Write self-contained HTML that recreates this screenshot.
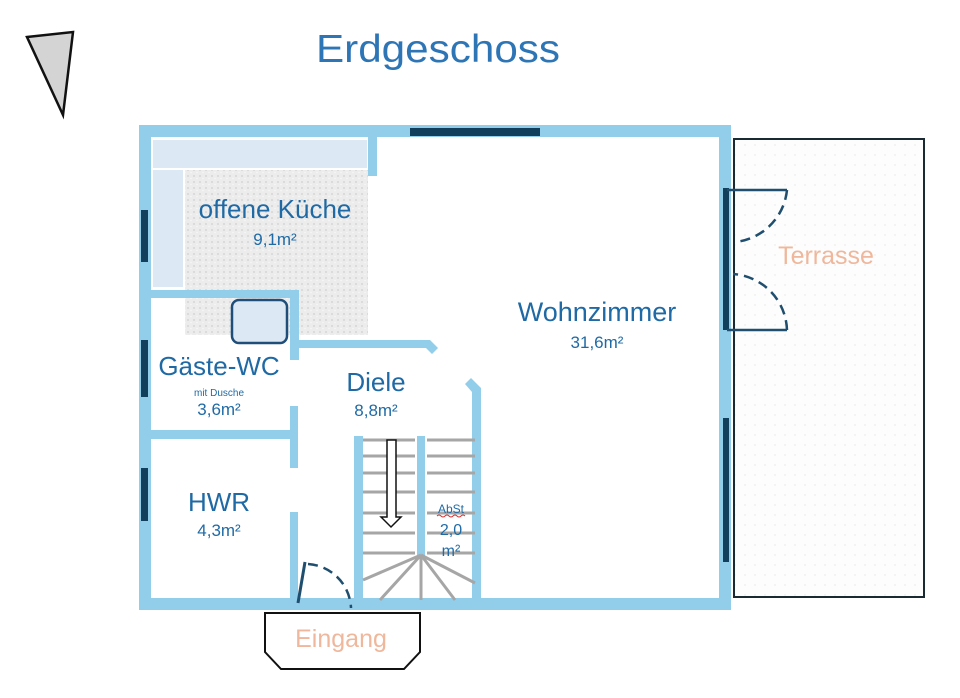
<!DOCTYPE html>
<html><head><meta charset="utf-8"><style>
html,body{margin:0;padding:0;background:#fff;}
svg{display:block;font-family:"Liberation Sans",sans-serif;}
</style></head><body>
<svg width="960" height="698" viewBox="0 0 960 698" xmlns="http://www.w3.org/2000/svg">
<defs>
<pattern id="sp" width="6" height="6" patternUnits="userSpaceOnUse">
<rect width="6" height="6" fill="#ececec"/><circle cx="2" cy="2" r="1" fill="#d6d6d6"/><circle cx="5" cy="4.5" r="0.8" fill="#f8f8f8"/>
</pattern>
<pattern id="dt" width="10" height="10" patternUnits="userSpaceOnUse">
<rect width="10" height="10" fill="#fdfdfd"/><circle cx="5" cy="5" r="0.7" fill="#e6e6e6"/>
</pattern>
</defs>
<polygon points="27,37 73,32 63,115" fill="#d4d4d4" stroke="#111" stroke-width="2.5"/>
<text x="438" y="62" font-size="39" fill="#2e75b6" text-anchor="middle" textLength="244" lengthAdjust="spacingAndGlyphs">Erdgeschoss</text>

<rect x="734" y="139" width="190" height="458" fill="url(#dt)" stroke="#1a2a33" stroke-width="2"/>
<text x="826" y="264" font-size="25" fill="#efb79b" text-anchor="middle">Terrasse</text>

<rect x="185" y="170" width="183" height="165" fill="url(#sp)"/>
<rect x="153" y="140" width="214" height="28" fill="#dce9f5"/>
<rect x="153" y="170" width="30" height="117" fill="#dce9f5"/>

<g fill="#92cdea">
<rect x="139" y="125" width="592" height="12"/>
<rect x="139" y="125" width="12" height="485"/>
<rect x="719" y="125" width="12" height="485"/>
<rect x="139" y="598" width="592" height="12"/>
<rect x="368" y="137" width="9" height="39"/>
<rect x="151" y="290" width="148" height="8"/>
<rect x="290" y="290" width="9" height="70"/>
<polygon points="299,340 430,340 438,348 432,354 426,348 299,348"/>
<rect x="151" y="430" width="147" height="9"/>
<rect x="290" y="406" width="8" height="62"/>
<rect x="290" y="512" width="8" height="94"/>
<rect x="354" y="436" width="9" height="166"/>
<rect x="417" y="436" width="8" height="120"/>
<polygon points="465,384 471,378 481,388 481,600 472,600 472,392"/>
</g>

<g fill="#123f5c">
<rect x="410" y="128" width="130" height="8"/>
<rect x="141" y="210" width="7" height="52"/>
<rect x="141" y="340" width="7" height="57"/>
<rect x="141" y="468" width="7" height="53"/>
<rect x="723" y="188" width="6" height="142"/>
<rect x="723" y="418" width="6" height="144"/>
</g>

<g stroke="#1f4e6e" stroke-width="2.5" fill="none">
<path d="M727,190 H787 M727,330 H787"/>
<path d="M787,190 A58,58 0 0 1 735,242" stroke-dasharray="10,6"/>
<path d="M787,330 A58,58 0 0 0 733,274" stroke-dasharray="10,6"/>
</g>

<rect x="232" y="300" width="55" height="43" rx="7" fill="#dce9f5" stroke="#1f4e79" stroke-width="2.5"/>

<g stroke="#a6a6a6" stroke-width="3">
<path d="M363,440H415 M363,456H415 M363,473H415 M363,492H415 M363,513H415 M363,533H415 M363,553H415"/>
<path d="M427,440H475 M427,456H475 M427,473H475 M427,492H475 M427,513H475 M427,533H475 M427,553H475"/>
<path d="M421,555 L363,580 M421,555 L380,600 M421,555 L421,600 M421,555 L455,600 M421,555 L475,583"/>
</g>
<polygon points="387,440 396,440 396,517 401,517 391,527 381,517 387,517" fill="#fff" stroke="#111" stroke-width="1.5"/>

<path d="M298,603 L305,562" stroke="#1f4e6e" stroke-width="3"/>
<path d="M308,564 A46,46 0 0 1 351,608" stroke="#1f4e6e" stroke-width="2.5" fill="none" stroke-dasharray="10,6"/>
<polygon points="265,613 420,613 420,652 404,669 281,669 265,652" fill="#fff" stroke="#111" stroke-width="2"/>
<text x="341" y="647" font-size="25" fill="#efb79b" text-anchor="middle">Eingang</text>

<g fill="#1f6aa5" text-anchor="middle">
<text x="275" y="218" font-size="26">offene Küche</text>
<text x="275" y="245" font-size="17">9,1m²</text>
<text x="597" y="321" font-size="27">Wohnzimmer</text>
<text x="597" y="348" font-size="17">31,6m²</text>
<text x="219" y="375" font-size="26">Gäste-WC</text>
<text x="219" y="396" font-size="10">mit Dusche</text>
<text x="219" y="415" font-size="17">3,6m²</text>
<text x="376" y="391" font-size="26">Diele</text>
<text x="376" y="416" font-size="17">8,8m²</text>
<text x="219" y="511" font-size="26">HWR</text>
<text x="219" y="536" font-size="17">4,3m²</text>
<text x="451" y="513" font-size="12">AbSt</text>
<text x="451" y="535" font-size="16">2,0</text>
<text x="451" y="556" font-size="16">m²</text>
</g>
<path d="M437,516 q2,-2 4,0 t4,0 t4,0 t4,0 t4,0 t4,0 t4,0" stroke="#e03030" stroke-width="1" fill="none"/>
</svg>
</body></html>
